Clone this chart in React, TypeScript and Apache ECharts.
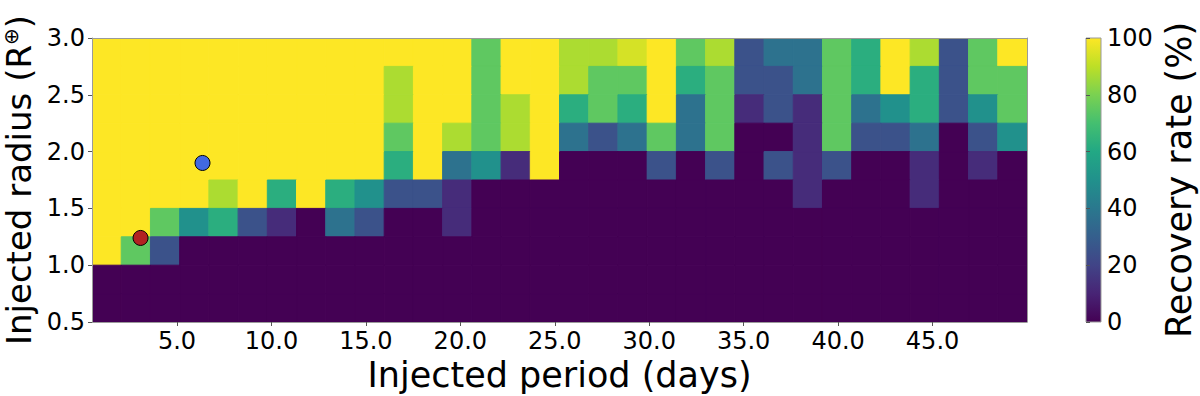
import React, { useEffect, useRef } from 'react';
import * as echarts from 'echarts';

const periodMin = 0.5;
const periodMax = 50;
const periodBinCount = 32;
const radiusMin = 0.5;
const radiusMax = 3.0;
const radiusBinLower = [0.5, 0.75, 1.0, 1.25, 1.5, 1.75, 2.0, 2.25, 2.5, 2.75];
const radiusBinWidth = 0.25;

// Recovery rate (%) rows, from the top radius bin (2.75–3.0) down to the bottom one (0.5–0.75)
const recoveryRows: number[][] = [
  [100, 100, 100, 100, 100, 100, 100, 100, 100, 100, 100, 100, 100, 75, 100, 100, 87.5, 87.5, 93.75, 100, 75, 87.5, 25, 37.5, 37.5, 75, 62.5, 100, 87.5, 25, 75, 100],
  [100, 100, 100, 100, 100, 100, 100, 100, 100, 100, 87.5, 100, 100, 75, 100, 100, 87.5, 75, 75, 100, 62.5, 75, 25, 25, 37.5, 75, 62.5, 100, 62.5, 25, 75, 75],
  [100, 100, 100, 100, 100, 100, 100, 100, 100, 100, 87.5, 100, 100, 75, 87.5, 100, 62.5, 75, 62.5, 100, 37.5, 75, 12.5, 25, 12.5, 75, 37.5, 50, 62.5, 25, 50, 75],
  [100, 100, 100, 100, 100, 100, 100, 100, 100, 100, 75, 100, 87.5, 75, 87.5, 100, 37.5, 25, 37.5, 75, 37.5, 75, 0, 0, 12.5, 75, 25, 25, 37.5, 0, 25, 50],
  [100, 100, 100, 100, 100, 100, 100, 100, 100, 100, 62.5, 100, 37.5, 50, 12.5, 100, 0, 0, 0, 25, 0, 25, 0, 25, 12.5, 25, 0, 0, 12.5, 0, 12.5, 0],
  [100, 100, 100, 100, 87.5, 100, 62.5, 100, 62.5, 50, 25, 25, 12.5, 0, 0, 0, 0, 0, 0, 0, 0, 0, 0, 0, 12.5, 0, 0, 0, 12.5, 0, 0, 0],
  [100, 100, 75, 50, 62.5, 25, 12.5, 0, 37.5, 25, 0, 0, 12.5, 0, 0, 0, 0, 0, 0, 0, 0, 0, 0, 0, 0, 0, 0, 0, 0, 0, 0, 0],
  [100, 75, 25, 0, 0, 0, 0, 0, 0, 0, 0, 0, 0, 0, 0, 0, 0, 0, 0, 0, 0, 0, 0, 0, 0, 0, 0, 0, 0, 0, 0, 0],
  [0, 0, 0, 0, 0, 0, 0, 0, 0, 0, 0, 0, 0, 0, 0, 0, 0, 0, 0, 0, 0, 0, 0, 0, 0, 0, 0, 0, 0, 0, 0, 0],
  [0, 0, 0, 0, 0, 0, 0, 0, 0, 0, 0, 0, 0, 0, 0, 0, 0, 0, 0, 0, 0, 0, 0, 0, 0, 0, 0, 0, 0, 0, 0, 0],
];

const xTicks = [5, 10, 15, 20, 25, 30, 35, 40, 45];
const colorbarTicks = [0, 20, 40, 60, 80, 100];

const redPlanet = [3.07, 1.24];
const bluePlanet = [6.35, 1.9];

const viridis = ['#440154', '#482475', '#414487', '#355f8d', '#2a788e', '#21918c', '#22a884', '#44bf70', '#7ad151', '#bddf26', '#fde725'];

const FONT = 'DejaVu Sans';

export default function App() {
  const ref = useRef<HTMLDivElement>(null);

  useEffect(() => {
    document.body.style.margin = '0';
    if (!ref.current) return;
    const chart = echarts.init(ref.current, null, { renderer: 'svg' });

    const binW = (periodMax - periodMin) / periodBinCount;
    const heat: number[][] = [];
    recoveryRows.forEach((row, k) => {
      const rLo = radiusBinLower[radiusBinLower.length - 1 - k];
      row.forEach((v, i) => {
        const pLo = periodMin + i * binW;
        heat.push([pLo, pLo + binW, rLo, rLo + radiusBinWidth, v]);
      });
    });

    const stops = viridis.map((c, i) => ({ offset: i / (viridis.length - 1), color: c }));

    const frameLine = { show: true, lineStyle: { color: '#9a9a9a', width: 1 } };

    chart.setOption({
      animation: false,
      backgroundColor: '#ffffff',
      textStyle: { fontFamily: FONT },
      grid: [
        { left: 92, right: 173, top: 38, bottom: 74, outerBoundsMode: 'none', containLabel: false },
        { left: 1086, width: 15, top: 38, height: 284, outerBoundsMode: 'none', containLabel: false },
      ],
      xAxis: [
        {
          type: 'value', gridIndex: 0, min: periodMin, max: periodMax, position: 'bottom', z: 10,
          axisLine: frameLine,
          axisTick: { show: true, length: 4, lineStyle: { color: '#555' }, customValues: xTicks },
          axisLabel: { fontSize: 24, color: '#000', margin: 7, fontFamily: FONT, customValues: xTicks, formatter: (v: number) => v.toFixed(1) },
          splitLine: { show: false },
          name: 'Injected period (days)', nameLocation: 'middle', nameGap: 29,
          nameTextStyle: { fontSize: 35, color: '#000', fontFamily: FONT },
        },
        { type: 'value', gridIndex: 1, min: 0, max: 1, show: false },
        {
          type: 'value', gridIndex: 0, min: periodMin, max: periodMax, position: 'top', z: 10,
          axisLine: frameLine, axisTick: { show: false }, axisLabel: { show: false }, splitLine: { show: false },
        },
      ],
      yAxis: [
        {
          type: 'value', gridIndex: 0, min: radiusMin, max: radiusMax, interval: 0.5, position: 'left', z: 10,
          axisLine: frameLine,
          axisTick: { show: true, length: 4, lineStyle: { color: '#555' } },
          axisLabel: { fontSize: 24, color: '#000', margin: 7, fontFamily: FONT, formatter: (v: number) => v.toFixed(1) },
          splitLine: { show: false },
          name: '{a|Injected radius (R}{s|⊕}{a|)}', nameLocation: 'middle', nameGap: 47, nameRotate: 90,
          nameTextStyle: {
            fontSize: 34, color: '#000', fontFamily: FONT,
            rich: {
              a: { fontSize: 34, color: '#000', fontFamily: FONT, lineHeight: 36 },
              s: { fontSize: 20, color: '#000', fontFamily: FONT, verticalAlign: 'top', lineHeight: 22 },
            },
          },
        },
        {
          type: 'value', gridIndex: 1, min: 0, max: 100, interval: 20, position: 'right', z: 10,
          axisLine: { show: false },
          axisTick: { show: true, length: 4, lineStyle: { color: '#555' } },
          axisLabel: { fontSize: 24, color: '#000', margin: 6, fontFamily: FONT, customValues: colorbarTicks },
          splitLine: { show: false },
          name: 'Recovery rate (%)', nameLocation: 'middle', nameGap: 60, nameRotate: 90,
          nameTextStyle: { fontSize: 35, color: '#000', fontFamily: FONT },
        },
        {
          type: 'value', gridIndex: 0, min: radiusMin, max: radiusMax, position: 'right', z: 10,
          axisLine: frameLine, axisTick: { show: false }, axisLabel: { show: false }, splitLine: { show: false },
        },
      ],
      visualMap: {
        show: false, type: 'continuous', seriesIndex: 0, dimension: 4, min: 0, max: 100,
        inRange: { color: viridis },
      },
      series: [
        {
          type: 'custom', xAxisIndex: 0, yAxisIndex: 0, clip: true,
          dimensions: ['pLo', 'pHi', 'rLo', 'rHi', 'rate'],
          encode: { x: [0, 1], y: [2, 3] },
          data: heat,
          renderItem: (params: any, api: any) => {
            const p0 = api.coord([api.value(0), api.value(2)]);
            const p1 = api.coord([api.value(1), api.value(3)]);
            const c = api.visual('color');
            return {
              type: 'rect',
              shape: { x: p0[0], y: p1[1], width: p1[0] - p0[0], height: p0[1] - p1[1] },
              style: { fill: c, stroke: c, lineWidth: 1 },
            };
          },
        },
        {
          type: 'custom', xAxisIndex: 1, yAxisIndex: 1,
          data: [[0, 1, 0, 100]],
          renderItem: (params: any, api: any) => {
            const p0 = api.coord([api.value(0), api.value(2)]);
            const p1 = api.coord([api.value(1), api.value(3)]);
            return {
              type: 'rect',
              shape: { x: p0[0], y: p1[1], width: p1[0] - p0[0], height: p0[1] - p1[1] },
              style: {
                fill: new echarts.graphic.LinearGradient(0, 1, 0, 0, stops),
                stroke: '#9a9a9a', lineWidth: 1,
              },
            };
          },
        },
        {
          type: 'scatter', xAxisIndex: 0, yAxisIndex: 0, z: 20,
          symbolSize: 15, data: [redPlanet],
          itemStyle: { color: '#b22222', borderColor: '#000', borderWidth: 1, opacity: 1 },
        },
        {
          type: 'scatter', xAxisIndex: 0, yAxisIndex: 0, z: 20,
          symbolSize: 15, data: [bluePlanet],
          itemStyle: { color: '#4169e1', borderColor: '#000', borderWidth: 1, opacity: 1 },
        },
      ],
    });

    return () => chart.dispose();
  }, []);

  return <div ref={ref} style={{ width: 1200, height: 396 }} />;
}
